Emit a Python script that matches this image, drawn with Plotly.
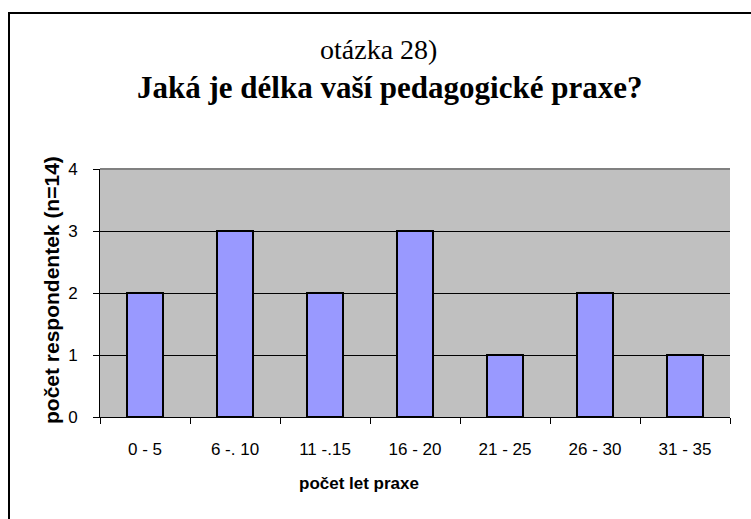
import plotly.graph_objects as go

categories = ["0 - 5", "6 -. 10", "11 -.15", "16 - 20", "21 - 25", "26 - 30", "31 - 35"]
values = [2, 3, 2, 3, 1, 2, 1]
y_ticks = [0, 1, 2, 3, 4]

W, H = 751, 519
L, R, T, B = 100, 730, 169, 417
pw, ph = R - L, B - T

def px(x):
    return (x - L) / pw

def py(y):
    return (B - y) / ph

fig = go.Figure()
fig.add_trace(go.Bar(
    x=categories, y=values,
    marker=dict(color="#9999FF", line=dict(color="black", width=2)),
    width=0.40,
))

fig.update_layout(
    width=W, height=H,
    margin=dict(l=L, r=W - R, t=T, b=H - B),
    paper_bgcolor="white",
    plot_bgcolor="#C0C0C0",
    showlegend=False,
    font=dict(family="Arial, Liberation Sans", color="black", size=17),
    xaxis=dict(
        showgrid=False, showline=True, linecolor="black", linewidth=1,
        ticks="outside", tickson="boundaries", ticklen=6, tickcolor="black",
        tickfont=dict(size=17), range=[-0.5, 6.5], ticklabelstandoff=17,
    ),
    yaxis=dict(
        range=[0, 4], tickvals=y_ticks, showgrid=True, gridcolor="black", gridwidth=1,
        showline=True, linecolor="black", linewidth=1, ticks="outside", ticklen=6,
        tickcolor="black", tickfont=dict(size=17), zeroline=False, ticklabelstandoff=12,
    ),
    shapes=[
        dict(type="rect", xref="paper", yref="paper", x0=px(9), x1=px(760), y0=py(530), y1=py(13),
             line=dict(color="black", width=2), fillcolor="rgba(0,0,0,0)", layer="below"),
        dict(type="line", xref="paper", yref="paper", x0=0, x1=1, y0=1, y1=1,
             line=dict(color="#808080", width=2)),
    ],
    annotations=[
        dict(text="otázka 28)", xref="paper", yref="paper", x=px(378), y=py(49),
             xanchor="center", yanchor="middle",
             showarrow=False, font=dict(family="Liberation Serif, Times New Roman", size=28)),
        dict(text="<b>Jaká je délka vaší pedagogické praxe?</b>", xref="paper", yref="paper",
             x=px(389), y=py(87), xanchor="center", yanchor="middle", showarrow=False,
             font=dict(family="Liberation Serif, Times New Roman", size=31)),
        dict(text="<b>počet let praxe</b>", xref="paper", yref="paper", x=px(359), y=py(484),
             xanchor="center", yanchor="middle",
             showarrow=False, font=dict(size=17)),
        dict(text="<b>počet respondentek (n=14)</b>", xref="paper", yref="paper", x=px(51), y=py(290),
             xanchor="center", yanchor="middle",
             showarrow=False, textangle=-90, font=dict(size=21)),
    ],
)

fig.write_html("out.html", config={"displayModeBar": False},
               post_script="document.body.style.margin='0';document.body.style.overflow='hidden';")
